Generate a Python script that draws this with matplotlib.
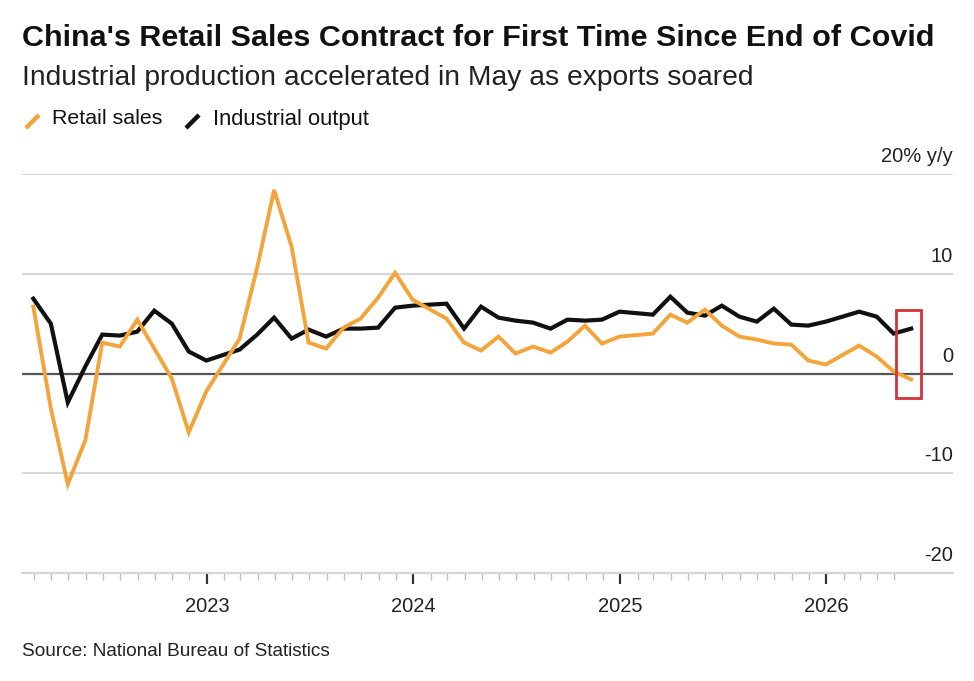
import matplotlib
matplotlib.use("Agg")
import matplotlib.pyplot as plt
import matplotlib.dates as mdates
from matplotlib.lines import Line2D
from matplotlib.patches import Rectangle
from matplotlib.transforms import blended_transform_factory
import pandas as pd

# ---------------- data ----------------
# Monthly observations (Jan is combined with Feb in China's data, so no January points)
years = [2022, 2023, 2024, 2025, 2026]
months_per_year = {2022: list(range(2, 13)), 2023: list(range(2, 13)),
                   2024: list(range(2, 13)), 2025: list(range(2, 13)),
                   2026: [2, 3, 4, 5]}

retail_sales = [
    6.7, -3.5, -11.1, -6.7, 3.1, 2.7, 5.4, 2.5, -0.5, -5.9, -1.8,   # 2022
    3.5, 10.6, 18.4, 12.7, 3.1, 2.5, 4.6, 5.5, 7.6, 10.1, 7.4,      # 2023
    5.5, 3.1, 2.3, 3.7, 2.0, 2.7, 2.1, 3.2, 4.8, 3.0, 3.7,          # 2024
    4.0, 5.9, 5.1, 6.4, 4.8, 3.7, 3.4, 3.0, 2.9, 1.3, 0.9,          # 2025
    2.8, 1.7, 0.2, -0.6,                                            # 2026
]
industrial_output = [
    7.5, 5.0, -2.9, 0.7, 3.9, 3.8, 4.2, 6.3, 5.0, 2.2, 1.3,         # 2022
    2.4, 3.9, 5.6, 3.5, 4.4, 3.7, 4.5, 4.5, 4.6, 6.6, 6.8,          # 2023
    7.0, 4.5, 6.7, 5.6, 5.3, 5.1, 4.5, 5.4, 5.3, 5.4, 6.2,          # 2024
    5.9, 7.7, 6.1, 5.8, 6.8, 5.7, 5.2, 6.5, 4.9, 4.8, 5.2,          # 2025
    6.2, 5.7, 4.0, 4.5,                                             # 2026
]
y_ticks = [20, 10, 0, -10, -20]
y_tick_labels = ["20% y/y", "10", "0", "-10", "-20"]
x_year_labels = ["2023", "2024", "2025", "2026"]

title = "China's Retail Sales Contract for First Time Since End of Covid"
subtitle = "Industrial production accelerated in May as exports soared"
source = "Source: National Bureau of Statistics"
legend_labels = ["Retail sales", "Industrial output"]

# ---------------- styling ----------------
ORANGE = "#F3A43A"
BLACK = "#111111"
GRID = "#d6d6d6"
ZERO = "#555555"
RED = "#d0343a"
FONT = ["Liberation Sans Narrow", "Liberation Sans", "DejaVu Sans"]

W, H = 974, 681
fig = plt.figure(figsize=(W / 100, H / 100), dpi=100)
fig.patch.set_facecolor("white")


def fx(px):
    return px / W


def fy(py):
    return 1 - py / H


renderer = fig.canvas.get_renderer()


def fit_text(x, y, s, width_px, size0, **kw):
    t = fig.text(fx(x), fy(y), s, fontsize=size0, family=FONT, **kw)
    for _ in range(3):
        w = t.get_window_extent(renderer=renderer).width
        t.set_fontsize(t.get_fontsize() * width_px / w)
    return t


# dates: month-end
dates = []
for yr in years:
    for m in months_per_year[yr]:
        dates.append(pd.Timestamp(year=yr, month=m, day=1) + pd.offsets.MonthEnd(0))

left, right, top, bottom = 22, 953, 174, 573
ax = fig.add_axes([fx(left), fy(bottom), fx(right - left), fy(top) - fy(bottom)])
ax.set_facecolor("white")

ax.set_ylim(-20, 20)
ax.set_xlim(pd.Timestamp("2022-02-08"), pd.Timestamp("2026-08-13"))

for v in y_ticks:
    if v == 0:
        ax.axhline(v, color=ZERO, lw=1.6, zorder=2)
    elif v != -20:
        ax.axhline(v, color=GRID, lw=1.4, zorder=1)

ax.plot(dates, industrial_output, color=BLACK, lw=3.0, zorder=4,
        solid_joinstyle="miter")
ax.plot(dates, retail_sales, color=ORANGE, lw=2.8, zorder=5,
        solid_joinstyle="miter")

# red highlight box around the latest month
x0 = mdates.date2num(pd.Timestamp("2026-05-04"))
x1 = mdates.date2num(pd.Timestamp("2026-06-17"))
ax.add_patch(Rectangle((x0, -2.5), x1 - x0, 8.9, fill=False, ec=RED, lw=2.0,
                       zorder=6, clip_on=False))

# spines
for s in ["top", "right", "left"]:
    ax.spines[s].set_visible(False)
ax.spines["bottom"].set_color(GRID)
ax.spines["bottom"].set_linewidth(1.6)
ax.set_yticks([])

# x ticks
major = [pd.Timestamp(f"{y}-01-01") for y in x_year_labels]
minor = [d for d in pd.date_range("2022-03-01", "2026-05-01", freq="MS") if d.month != 1]
ax.set_xticks(major)
ax.set_xticklabels(x_year_labels, family=FONT, fontsize=14.5, color="#222222")
ax.set_xticks(minor, minor=True)
ax.tick_params(axis="x", which="major", length=8, width=1.6, color="#333333", pad=9)
ax.tick_params(axis="x", which="minor", length=5, width=1.0, color="#bdbdbd")

# y labels above gridlines at right
tr = blended_transform_factory(ax.transAxes, ax.transData)
for v, lab in zip(y_ticks, y_tick_labels):
    ax.text(1.0, v + 1.75, lab, transform=tr, ha="right", va="center",
            fontsize=14.5, family=FONT, color="#222222", clip_on=False)

# titles
fit_text(22, 38, title, 908, 20, weight="bold", va="center", ha="left", color="#111111")
fit_text(22, 78, subtitle, 736, 17, va="center", ha="left", color="#222222")

# legend
fig.add_artist(Line2D([fx(26), fx(39)], [fy(128), fy(115)], color=ORANGE, lw=3.2,
                      solid_capstyle="butt"))
fit_text(52, 119, legend_labels[0], 110, 14, va="center", ha="left", color="#111111")
fig.add_artist(Line2D([fx(186), fx(199)], [fy(128), fy(115)], color=BLACK, lw=3.2,
                      solid_capstyle="butt"))
fit_text(213, 119, legend_labels[1], 157, 14, va="center", ha="left", color="#111111")

fit_text(22, 651, source, 307, 12, va="center", ha="left", color="#222222")

fig.savefig("out.png", dpi=100, facecolor="white")
